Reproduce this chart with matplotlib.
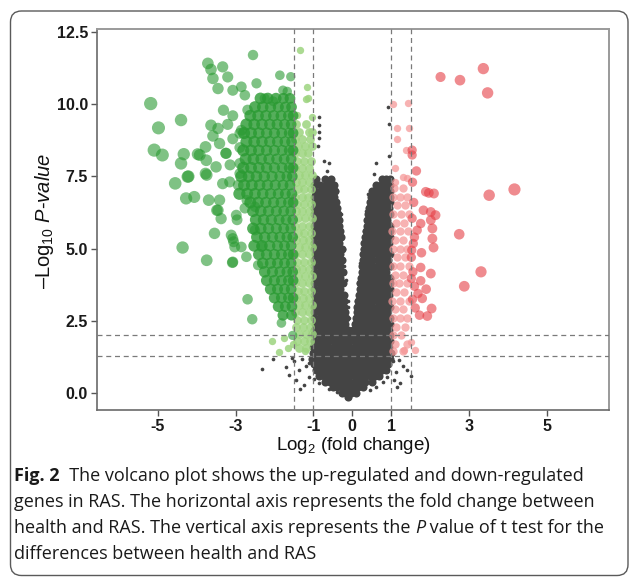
import numpy as np
import matplotlib
matplotlib.use("Agg")
import matplotlib.pyplot as plt
from matplotlib.patches import FancyBboxPatch

# ---------------- data ----------------
fc_cuts = [-1.5, -1.0, 1.0, 1.5]
p_cuts = [2.0, 1.30103]

x_ticks = [-5, -3, -1, 0, 1, 3, 5]
x_ticklabels = ["-5", "-3", "-1", "0", "1", "3", "5"]
y_ticks = [0.0, 2.5, 5.0, 7.5, 10.0, 12.5]
y_ticklabels = ["0.0", "2.5", "5.0", "7.5", "10.0", "12.5"]

# strongly down-regulated genes (scattered)
down_sig_x = [-5.18, -4.98, -5.09, -4.88, -4.40, -4.33, -4.40, -4.23, -4.55, -4.27, -4.06, -4.36,
              -3.74, -3.97, -3.75, -3.77, -3.50, -3.77, -3.69, -3.41, -3.45, -3.37, -2.98, -3.54,
              -3.07, -3.02, -2.72, -3.07, -3.71, -3.63, -3.33, -3.58, -3.20, -3.45, -3.07, -2.85,
              -2.76, -2.46, -2.55, -2.25, -2.03, -1.86, -1.58, -1.78, -1.67, -3.31, -3.07, -2.69,
              -3.63, -3.45, -3.20, -3.58, -3.41, -3.24, -3.07, -2.85, -2.89, -3.15, -3.33, -2.93,
              -2.89, -2.71, -2.76, -3.11, -3.05, -2.85, -3.08, -2.42, -2.50, -2.33, -2.50, -2.69,
              -2.57, -1.82, -1.53, -3.48, -3.92, -3.25, -2.89, -3.14, -2.89, -3.74, -2.96, -4.21]
down_sig_y = [10.02, 9.18, 8.41, 8.24, 9.45, 8.27, 7.95, 7.49, 7.26, 6.74, 6.79, 5.04,
              4.60, 8.27, 8.06, 8.52, 7.83, 7.60, 6.68, 6.68, 6.33, 6.04, 6.16, 5.53,
              5.35, 5.06, 4.72, 4.54, 11.41, 11.20, 11.29, 10.89, 10.94, 10.54, 10.48, 10.60,
              10.31, 10.72, 11.70, 10.20, 10.10, 11.00, 10.95, 10.48, 10.44, 9.79, 9.60, 9.80,
              9.27, 9.16, 9.30, 8.90, 8.64, 8.30, 8.80, 9.10, 7.95, 7.31, 7.25, 7.20,
              7.60, 6.68, 6.40, 5.47, 5.24, 5.06, 4.52, 4.43, 5.64, 5.06, 6.45, 3.25,
              2.56, 2.43, 2.00, 6.33, 8.24, 8.30, 8.50, 7.90, 8.99, 7.55, 6.00, 7.50]

# dense core of down-regulated genes, row by row
down_core_levels = [10.2, 9.9, 9.6, 9.3, 9.0, 8.7, 8.4, 8.1, 7.8, 7.5, 7.2, 6.9, 6.6, 6.3,
                    6.0, 5.7, 5.4, 5.1, 4.8, 4.5, 4.2, 3.9, 3.6, 3.3, 3.0, 2.7]
down_core_xs = [
    [-2.36, -2.17, -1.96, -1.77, -1.60],
    [-2.50, -2.30, -2.10, -1.90, -1.72, -1.56],
    [-2.62, -2.42, -2.22, -2.02, -1.83, -1.64, -1.52],
    [-2.72, -2.52, -2.32, -2.12, -1.93, -1.74, -1.57],
    [-2.78, -2.60, -2.40, -2.20, -2.00, -1.81, -1.62, -1.52],
    [-2.72, -2.52, -2.32, -2.12, -1.92, -1.73, -1.56],
    [-2.80, -2.60, -2.40, -2.20, -2.00, -1.80, -1.62, -1.52],
    [-2.74, -2.54, -2.34, -2.14, -1.94, -1.75, -1.57],
    [-2.80, -2.60, -2.40, -2.20, -2.00, -1.80, -1.62, -1.52],
    [-2.85, -2.66, -2.46, -2.26, -2.06, -1.86, -1.68, -1.54],
    [-2.78, -2.58, -2.38, -2.18, -1.98, -1.78, -1.60],
    [-2.90, -2.70, -2.50, -2.30, -2.10, -1.90, -1.72, -1.55],
    [-2.62, -2.42, -2.22, -2.02, -1.83, -1.64, -1.52],
    [-2.55, -2.35, -2.15, -1.95, -1.76, -1.58],
    [-2.48, -2.28, -2.08, -1.88, -1.70, -1.53],
    [-2.55, -2.35, -2.15, -1.95, -1.76, -1.58],
    [-2.45, -2.25, -2.05, -1.86, -1.68, -1.53],
    [-2.52, -2.32, -2.12, -1.92, -1.74, -1.57],
    [-2.40, -2.20, -2.00, -1.82, -1.64, -1.52],
    [-2.30, -2.10, -1.92, -1.74, -1.57],
    [-2.25, -2.05, -1.86, -1.68, -1.53],
    [-2.20, -2.00, -1.82, -1.64, -1.52],
    [-2.10, -1.92, -1.74, -1.57],
    [-2.00, -1.82, -1.64, -1.52],
    [-1.90, -1.72, -1.55],
    [-1.78, -1.56],
]

# mildly down-regulated genes (light green)
down_mild_levels = [9.3, 9.05, 8.8, 8.55, 8.3, 8.05, 7.8, 7.55, 7.3, 7.05, 6.8, 6.55, 6.3, 6.05,
                    5.8, 5.55, 5.3, 5.05, 4.8, 4.55, 4.3, 4.05, 3.8, 3.55, 3.3, 3.05, 2.8, 2.55,
                    2.3, 2.05, 1.8, 1.55]
down_mild_xs = [
    [-1.45, -1.20], [-1.38, -1.12, -1.03], [-1.46, -1.28, -1.08], [-1.40, -1.22, -1.04],
    [-1.47, -1.30, -1.14], [-1.42, -1.25, -1.07], [-1.46, -1.29, -1.12], [-1.38, -1.21, -1.04],
    [-1.45, -1.28, -1.10], [-1.40, -1.23, -1.05], [-1.47, -1.30, -1.13], [-1.41, -1.24, -1.06],
    [-1.45, -1.28, -1.11], [-1.39, -1.22, -1.04], [-1.46, -1.29, -1.12], [-1.40, -1.23, -1.05],
    [-1.45, -1.27, -1.10], [-1.38, -1.21, -1.04], [-1.46, -1.29, -1.12], [-1.41, -1.24, -1.06],
    [-1.45, -1.28, -1.11], [-1.39, -1.22, -1.04], [-1.46, -1.29, -1.12], [-1.40, -1.23, -1.05],
    [-1.45, -1.27, -1.10], [-1.38, -1.21, -1.04], [-1.46, -1.29, -1.12], [-1.41, -1.24, -1.06],
    [-1.44, -1.26, -1.09], [-1.38, -1.20, -1.04], [-1.43, -1.25, -1.08], [-1.36, -1.18],
]
down_mild_x = [-1.34, -1.15, -1.19, -1.13, -1.04, -1.43, -2.07, -1.88, -1.52, -1.21, -1.65, -1.75]
down_mild_y = [11.87, 10.58, 10.17, 10.20, 9.56, 9.62, 1.81, 1.43, 1.72, 1.46, 1.55, 1.9]

# strongly up-regulated genes (dark red)
up_sig_x = [1.54, 1.54, 1.65, 2.27, 2.77, 3.37, 3.48, 1.89, 1.97, 2.10, 3.52, 4.17, 1.83, 2.02,
            2.14, 1.76, 2.02, 2.06, 1.67, 2.75, 2.06, 2.09, 1.57, 1.78, 1.52, 1.76, 2.02, 1.52,
            1.76, 3.31, 2.88, 1.90, 1.69, 1.80, 2.04, 1.73, 1.93, 1.55, 1.58, 1.54, 1.60, 1.53,
            1.56, 1.60, 1.55, 1.62]
up_sig_y = [8.41, 8.24, 7.69, 10.94, 10.83, 11.23, 10.39, 6.97, 6.93, 6.91, 6.85, 7.05, 6.33, 6.27,
            6.16, 5.87, 5.99, 5.70, 5.64, 5.50, 5.35, 5.04, 5.18, 4.86, 4.70, 4.35, 4.14, 3.97,
            3.89, 4.20, 3.70, 3.60, 3.45, 3.28, 2.93, 2.70, 2.67, 7.30, 6.60, 6.05, 5.40, 4.95,
            4.20, 3.70, 3.25, 2.95]

# mildly up-regulated genes (light red)
up_mild_levels = [7.1, 6.8, 6.5, 6.2, 5.9, 5.6, 5.3, 5.0, 4.7, 4.4, 4.1, 3.8, 3.5, 3.2, 2.9,
                  2.6, 2.3, 2.0, 1.7, 1.45]
up_mild_xs = [
    [1.08, 1.30], [1.04, 1.22, 1.42], [1.15, 1.36], [1.05, 1.25, 1.45], [1.12, 1.33],
    [1.03, 1.22, 1.44], [1.10, 1.30], [1.05, 1.24, 1.40], [1.14, 1.35], [1.04, 1.23, 1.46],
    [1.10, 1.31], [1.05, 1.20, 1.42], [1.13, 1.34], [1.03, 1.22, 1.45], [1.10, 1.30],
    [1.05, 1.24, 1.40], [1.12, 1.36], [1.04, 1.25], [1.10, 1.42], [1.06, 1.30],
]
up_mild_x = [1.05, 1.43, 1.14, 1.46, 1.14, 1.37, 1.11, 1.31, 1.41, 1.11, 1.50, 1.62, 1.34]
up_mild_y = [10.00, 10.04, 9.16, 9.16, 8.79, 8.43, 7.78, 7.49, 7.43, 7.30, 1.78, 1.50, 1.49]

# non-significant genes (grey), dense cloud row by row
ns_levels = [7.4, 7.2, 7.0, 6.8, 6.6, 6.4, 6.2, 6.0, 5.8, 5.6, 5.4, 5.2, 5.0, 4.8, 4.6, 4.4,
             4.2, 4.0, 3.8, 3.6, 3.4, 3.2, 3.0, 2.8, 2.6, 2.4, 2.2, 2.0,
             1.8, 1.6, 1.4, 1.2, 1.0, 0.8, 0.6, 0.4, 0.2, 0.0, -0.12]
ns_xs = [
    [-0.92, -0.71, -0.55, 0.76, 0.88, 0.97],
    [-0.97, -0.84, -0.68, -0.57, -0.46, 0.62, 0.74, 0.86, 0.97],
    [-0.96, -0.81, -0.70, -0.58, -0.44, 0.51, 0.64, 0.77, 0.90, 0.98],
    [-0.98, -0.86, -0.73, -0.60, -0.47, 0.48, 0.61, 0.74, 0.87, 0.97],
    [-0.95, -0.83, -0.69, -0.55, -0.42, 0.45, 0.58, 0.71, 0.84, 0.96],
    [-0.97, -0.85, -0.72, -0.60, -0.48, -0.40, 0.43, 0.55, 0.68, 0.81, 0.94],
    [-0.98, -0.86, -0.74, -0.61, -0.49, -0.37, 0.41, 0.53, 0.66, 0.79, 0.92, 0.98],
    [-0.96, -0.83, -0.70, -0.57, -0.45, -0.35, 0.39, 0.51, 0.64, 0.77, 0.90],
    [-0.98, -0.85, -0.73, -0.60, -0.47, -0.34, 0.37, 0.49, 0.62, 0.75, 0.88, 0.97],
    [-0.96, -0.84, -0.71, -0.58, -0.44, -0.31, 0.35, 0.47, 0.60, 0.73, 0.86, 0.97],
    [-0.98, -0.86, -0.73, -0.60, -0.47, -0.36, -0.28, 0.33, 0.45, 0.58, 0.71, 0.84, 0.96],
    [-0.97, -0.84, -0.71, -0.58, -0.45, -0.33, 0.30, 0.42, 0.55, 0.68, 0.81, 0.94],
    [-0.98, -0.85, -0.72, -0.59, -0.46, -0.35, -0.26, 0.29, 0.41, 0.54, 0.67, 0.80, 0.93],
    [-0.96, -0.83, -0.70, -0.57, -0.44, -0.31, 0.28, 0.40, 0.53, 0.66, 0.79, 0.92, 0.98],
    [-0.98, -0.85, -0.72, -0.60, -0.47, -0.36, -0.26, 0.27, 0.39, 0.52, 0.65, 0.78, 0.91],
    [-0.97, -0.84, -0.71, -0.58, -0.45, -0.32, 0.25, 0.37, 0.50, 0.63, 0.76, 0.89, 0.98],
    [-0.98, -0.86, -0.73, -0.60, -0.47, -0.35, -0.24, 0.24, 0.36, 0.49, 0.62, 0.75, 0.88],
    [-0.96, -0.83, -0.70, -0.57, -0.44, -0.31, 0.22, 0.35, 0.48, 0.61, 0.74, 0.87, 0.97],
    [-0.98, -0.85, -0.72, -0.59, -0.46, -0.34, -0.23, 0.21, 0.33, 0.46, 0.59, 0.72, 0.85, 0.96],
    [-0.97, -0.84, -0.71, -0.58, -0.45, -0.32, 0.19, 0.32, 0.45, 0.58, 0.71, 0.84, 0.97],
    [-0.98, -0.86, -0.73, -0.60, -0.47, -0.35, -0.22, 0.17, 0.30, 0.43, 0.56, 0.69, 0.82, 0.95],
    [-0.96, -0.83, -0.70, -0.57, -0.44, -0.31, -0.20, 0.15, 0.28, 0.41, 0.54, 0.67, 0.80, 0.93],
    [-0.98, -0.85, -0.72, -0.59, -0.46, -0.33, -0.21, 0.13, 0.26, 0.39, 0.52, 0.65, 0.78, 0.91, 0.98],
    [-0.97, -0.84, -0.71, -0.58, -0.45, -0.32, -0.19, 0.11, 0.24, 0.37, 0.50, 0.63, 0.76, 0.89],
    [-0.98, -0.86, -0.73, -0.60, -0.47, -0.34, -0.22, -0.15, 0.09, 0.22, 0.35, 0.48, 0.61, 0.74, 0.87, 0.97],
    [-0.96, -0.83, -0.70, -0.57, -0.44, -0.31, -0.19, 0.06, 0.19, 0.32, 0.45, 0.58, 0.71, 0.84, 0.96],
    [-0.98, -0.85, -0.72, -0.59, -0.46, -0.33, -0.20, -0.11, 0.03, 0.16, 0.29, 0.42, 0.55, 0.68, 0.81, 0.94],
    [-0.97, -0.84, -0.71, -0.58, -0.45, -0.32, -0.19, -0.08, 0.00, 0.13, 0.26, 0.39, 0.52, 0.65, 0.78, 0.91, 0.98],
    [-0.98, -0.85, -0.72, -0.59, -0.46, -0.33, -0.20, -0.07, 0.06, 0.19, 0.32, 0.45, 0.58, 0.71, 0.84, 0.97],
    [-1.00, -0.87, -0.74, -0.61, -0.48, -0.35, -0.22, -0.09, 0.04, 0.17, 0.30, 0.43, 0.56, 0.69, 0.82, 0.95],
    [-1.02, -0.90, -0.77, -0.64, -0.51, -0.38, -0.25, -0.12, 0.01, 0.14, 0.27, 0.40, 0.53, 0.66, 0.79, 0.92, 0.99],
    [-1.03, -0.91, -0.78, -0.65, -0.52, -0.39, -0.26, -0.13, 0.00, 0.13, 0.26, 0.39, 0.52, 0.65, 0.78, 0.91, 0.98],
    [-0.98, -0.85, -0.72, -0.59, -0.46, -0.33, -0.20, -0.07, 0.06, 0.19, 0.32, 0.45, 0.58, 0.71, 0.84, 0.93],
    [-0.93, -0.80, -0.67, -0.54, -0.41, -0.28, -0.15, -0.02, 0.11, 0.24, 0.37, 0.50, 0.63, 0.76, 0.86],
    [-0.85, -0.72, -0.59, -0.46, -0.33, -0.20, -0.07, 0.06, 0.19, 0.32, 0.45, 0.58, 0.70],
    [-0.70, -0.57, -0.44, -0.31, -0.18, -0.05, 0.08, 0.21, 0.34, 0.50],
    [-0.50, -0.38, -0.25, -0.12, 0.01, 0.14, 0.28],
    [-0.27, -0.15, -0.03, 0.10],
    [-0.10],
]
ns_x = [-0.85, -0.85, -0.86, -0.85, -0.87, -0.72, -0.60, -0.66, 0.92, 0.95, 0.95, 0.62, 0.55,
        -2.33, -2.04, -1.70, -1.62, -1.50, -1.45, -1.38, -1.30, -1.25, -1.18, -1.12, -1.55, -1.35,
        1.05, 1.12, 1.24, 1.40, 1.20, 1.08, 1.30, 1.50, 1.15,
        -0.12, -0.08, 0.02, -0.38, -0.30, -0.22, -0.20, -0.16, -0.12,
        0.40, 0.36, 0.30, 0.24, 0.20, 0.14, 0.10,
        -1.10, -0.98, -0.85, 0.90, 0.78, -0.60, 0.45, -0.40, 0.62]
ns_y = [9.55, 9.27, 9.03, 8.82, 8.55, 8.05, 7.95, 7.70, 9.90, 9.30, 8.20, 7.95, 7.60,
        0.83, 1.18, 0.90, 0.62, 1.10, 0.45, 0.80, 1.20, 0.30, 0.95, 0.55, 1.22, 0.15,
        1.10, 0.75, 0.35, 0.80, 1.15, 0.45, 0.95, 0.60, 0.20,
        3.00, 2.60, 2.20, 7.00, 6.20, 5.00, 4.40, 3.90, 3.20,
        6.90, 6.30, 5.60, 5.00, 4.50, 3.80, 3.20,
        1.05, 0.50, 0.35, 0.55, 0.38, 0.15, 0.12, 0.05, 0.22]


def rows_to_points(levels, xs):
    px, py = [], []
    for lv, row in zip(levels, xs):
        for v in row:
            px.append(v)
            py.append(lv)
    return np.array(px), np.array(py)


def dot_size(x, base=7.6):
    d_px = np.clip(base + 1.1 * np.abs(np.asarray(x)), 9.0, 13.5)
    return (d_px * 0.72) ** 2


# ---------------- figure ----------------
plt.rcParams["axes.unicode_minus"] = False
plt.rcParams["mathtext.fontset"] = "custom"
plt.rcParams["mathtext.rm"] = "Liberation Sans"
plt.rcParams["mathtext.it"] = "Liberation Sans:italic"
plt.rcParams["mathtext.bf"] = "Liberation Sans:bold"

W, H = 629, 578
fig = plt.figure(figsize=(W / 100, H / 100), dpi=100)
fig.patch.set_facecolor("white")

# background frame + caption layer in pixel coordinates
bg = fig.add_axes([0, 0, 1, 1], zorder=0)
bg.set_xlim(0, W)
bg.set_ylim(H, 0)
bg.axis("off")
frame = FancyBboxPatch((10.5, 11), 617.5, 564.5,
                       boxstyle="round,pad=0,rounding_size=11",
                       fc="none", ec="#5a5a5a", lw=1.0)
bg.add_patch(frame)

ax = fig.add_axes([97 / W, 1 - 410 / H, (609 - 97) / W, (410 - 29) / H], zorder=1)
ax.set_xlim(-6.56, 6.60)
ax.set_ylim(-0.58, 12.6)

gray = "#444444"
gx, gy = rows_to_points(ns_levels, ns_xs)
ax.scatter(gx, gy, s=34, c=gray, lw=0, zorder=2)
ax.scatter(ns_x, ns_y, s=7, c=gray, lw=0, zorder=2)

lgx, lgy = rows_to_points(down_mild_levels, down_mild_xs)
ax.scatter(lgx, lgy, s=40, c="#9dd47f", alpha=0.85, lw=0, zorder=3)
ax.scatter(down_mild_x, down_mild_y, s=28, c="#9dd47f", alpha=0.85, lw=0, zorder=3)

lrx, lry = rows_to_points(up_mild_levels, up_mild_xs)
ax.scatter(lrx, lry, s=36, c="#f59595", alpha=0.72, lw=0, zorder=3)
ax.scatter(up_mild_x, up_mild_y, s=28, c="#f59595", alpha=0.72, lw=0, zorder=3)

cx, cy = rows_to_points(down_core_levels, down_core_xs)
ax.scatter(cx, cy, s=dot_size(cx, base=9.0), c="#2a9a32", alpha=0.8, lw=0, zorder=3)
ax.scatter(down_sig_x, down_sig_y, s=dot_size(down_sig_x), c="#2a9a32", alpha=0.6, lw=0, zorder=3)
ax.scatter(up_sig_x, up_sig_y, s=dot_size(up_sig_x), c="#e53e44", alpha=0.6, lw=0, zorder=3)

for xv in fc_cuts:
    ax.axvline(xv, color="#7a7a7a", lw=0.9, ls=(0, (4, 3)), zorder=4)
for yv in p_cuts:
    ax.axhline(yv, color="#7a7a7a", lw=0.9, ls=(0, (4, 3)), zorder=4)

for side in ["left", "bottom"]:
    ax.spines[side].set_color("#6a6a6a")
    ax.spines[side].set_linewidth(1.2)
for side in ["top", "right"]:
    ax.spines[side].set_color("#9a9a9a")
    ax.spines[side].set_linewidth(1.4)

ax.set_xticks(x_ticks)
ax.set_xticklabels(x_ticklabels)
ax.set_yticks(y_ticks)
ax.set_yticklabels(y_ticklabels)
ax.tick_params(length=4, width=1, color="#555555", pad=2.5,
               labelsize=11.5, labelcolor="#1a1a1a")
for lab in ax.get_xticklabels() + ax.get_yticklabels():
    lab.set_fontfamily("Liberation Sans")
    lab.set_fontweight("bold")

ax.text(0.5, -0.092, r"Log$_2$ (fold change)", transform=ax.transAxes,
        ha="center", va="center", fontsize=13.5, family="Liberation Sans", color="#111111")
ax.text(-0.102, 0.496, r"–Log$_{10}$ $P$-$value$", transform=ax.transAxes,
        ha="center", va="center", rotation=90, fontsize=14.5,
        family="Liberation Sans", color="#111111")

# caption
cap_font = "Open Sans"
cap_size = 13.0
renderer = fig.canvas.get_renderer()


def write_runs(x0, y0, runs):
    x = x0
    for txt, style in runs:
        kw = dict(fontsize=cap_size, family=cap_font, color="#1a1a1a", va="baseline", ha="left")
        if style == "b":
            kw["fontweight"] = "bold"
        elif style == "i":
            kw["fontstyle"] = "italic"
        t = bg.text(x, y0, txt, **kw)
        bb = t.get_window_extent(renderer=renderer)
        x += bb.width


write_runs(14, 481, [("Fig. 2", "b"),
                     ("  The volcano plot shows the up-regulated and down-regulated", "n")])
write_runs(14, 507, [("genes in RAS. The horizontal axis represents the fold change between", "n")])
write_runs(14, 533, [("health and RAS. The vertical axis represents the ", "n"), ("P", "i"),
                     (" value of t test for the", "n")])
write_runs(14, 559, [("differences between health and RAS", "n")])

fig.savefig("out.png", dpi=100, facecolor="white")
